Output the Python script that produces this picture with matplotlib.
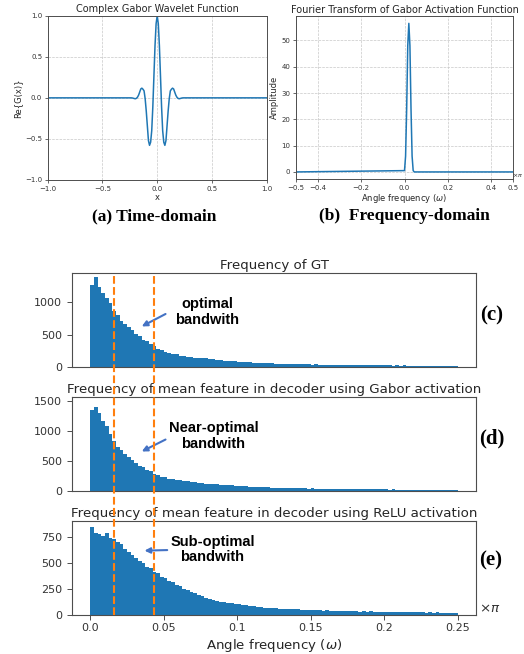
import numpy as np
import matplotlib
matplotlib.use('Agg')
from matplotlib import pyplot as plt
from matplotlib.lines import Line2D
from matplotlib import transforms

wave_x = [-1.0, -0.25, -0.24, -0.23, -0.22, -0.21, -0.20, -0.19, -0.18, -0.17, -0.16,
          -0.15, -0.14, -0.13, -0.12, -0.11, -0.10, -0.09, -0.08, -0.07, -0.06,
          -0.05, -0.04, -0.03, -0.02, -0.01, 0.0, 0.01, 0.02, 0.03, 0.04,
          0.05, 0.06, 0.07, 0.08, 0.09, 0.10, 0.11, 0.12, 0.13, 0.14,
          0.15, 0.16, 0.17, 0.18, 0.19, 0.20, 0.21, 0.22, 0.23, 0.24, 0.25, 1.0]
wave_re = [0.0, 0.0, 0.0, -0.001, -0.004, -0.008, -0.011, -0.006, 0.008, 0.033, 0.07,
           0.108, 0.118, 0.105, 0.085, -0.01, -0.16, -0.34, -0.52, -0.578, -0.54,
           -0.40, -0.11, 0.265, 0.634, 0.902, 1.0, 0.902, 0.634, 0.265, -0.11,
           -0.40, -0.54, -0.578, -0.52, -0.34, -0.16, -0.01, 0.085, 0.105, 0.118,
           0.108, 0.07, 0.033, 0.008, -0.006, -0.011, -0.008, -0.004, -0.001, 0.0, 0.0, 0.0]

# ---- (b) Fourier amplitude
ft_freq = [-0.5, 0.0, 0.005, 0.01, 0.015, 0.02, 0.025, 0.03, 0.035, 0.04, 0.045, 0.5]
ft_amp = [0.0, 0.5, 6.0, 24.0, 48.0, 56.5, 48.0, 24.0, 6.0, 0.5, 0.0, 0.0]

# ---- (c)-(e) histograms, 100 bins of width 0.0025 on [0, 0.25]
bin_width = 0.0025
gt_counts = [1275, 1395, 1240, 1150, 1070, 985, 860, 805, 715, 660,
             612, 570, 505, 478, 425, 398, 352, 318, 282, 258,
             230, 222, 202, 199, 178, 175, 162, 160, 147, 145,
             133, 132, 124, 122, 112, 110, 100, 98, 90, 89,
             81, 80, 74, 73, 67, 67, 61, 61, 56, 56,
             52, 52, 48, 49, 45, 46, 43, 44, 40, 41,
             38, 39, 36, 37, 34, 36, 33, 34, 31, 32,
             30, 31, 28, 30, 27, 29, 26, 28, 25, 27,
             24, 26, 23, 25, 22, 24, 21, 23, 20, 22,
             19, 21, 18, 20, 17, 19, 16, 18, 15, 16]
gabor_counts = [1340, 1390, 1300, 1160, 1085, 945, 830, 730, 685, 605,
                565, 505, 460, 418, 390, 348, 320, 270, 255, 228,
                222, 202, 198, 182, 176, 160, 158, 145, 143, 131,
                130, 119, 118, 108, 107, 98, 97, 88, 87, 80,
                80, 73, 73, 67, 67, 61, 62, 56, 56, 51,
                51, 47, 48, 44, 45, 41, 42, 38, 39, 36,
                37, 33, 35, 31, 33, 29, 31, 28, 29, 26,
                28, 25, 26, 24, 25, 22, 24, 21, 22, 20,
                21, 19, 20, 18, 19, 17, 18, 16, 17, 15,
                16, 15, 15, 14, 15, 13, 14, 13, 13, 12]
relu_counts = [850, 790, 778, 758, 790, 742, 735, 700, 680, 636,
               610, 575, 550, 515, 500, 466, 450, 416, 400, 366,
               355, 328, 316, 288, 276, 248, 240, 218, 212, 191,
               186, 166, 158, 140, 138, 125, 122, 111, 112, 102,
               102, 93, 94, 85, 86, 78, 78, 71, 72, 65,
               66, 60, 62, 57, 58, 53, 54, 49, 51, 46,
               48, 44, 46, 42, 44, 40, 42, 38, 40, 36,
               38, 35, 37, 33, 36, 32, 34, 31, 33, 30,
               32, 29, 31, 28, 30, 27, 29, 26, 28, 25,
               27, 24, 26, 23, 25, 22, 23, 21, 22, 20]

band_edges = [0.016, 0.043]
hist_titles = ['Frequency of GT',
               'Frequency of mean feature in decoder using Gabor activation',
               'Frequency of mean feature in decoder using ReLU activation']
hist_yticks = [[0, 500, 1000], [0, 500, 1000, 1500], [0, 250, 500, 750]]
hist_ylims = [1460, 1565, 907]
panel_tags = ['(c)', '(d)', '(e)']
notes = ['optimal\nbandwith', 'Near-optimal\nbandwith', 'Sub-optimal\nbandwith']
freq_ticks = [0.0, 0.05, 0.1, 0.15, 0.2, 0.25]
freq_ticklabels = ['0.0', '0.05', '0.1', '0.15', '0.2', '0.25']

W, H = 524.0, 654.0


def rect(x0, y0, x1, y1):
    return [x0 / W, 1 - y1 / H, (x1 - x0) / W, (y1 - y0) / H]


def fp(px, py):
    return (px / W, 1 - py / H)


blue = '#1f77b4'
spine_col = '0.3'
serif = ['Liberation Serif', 'DejaVu Serif']
sans_b = ['Liberation Sans', 'DejaVu Sans']

fig = plt.figure(figsize=(5.24, 6.54), dpi=100)

# ---------------- (a)
ax_a = fig.add_axes(rect(47.7, 15.7, 266.7, 180))
ax_a.plot(wave_x, wave_re, color=blue, lw=1.1)
ax_a.set_xlim(-1, 1)
ax_a.set_ylim(-1, 1)
ax_a.set_xticks([-1.0, -0.5, 0.0, 0.5, 1.0])
ax_a.set_yticks([-1.0, -0.5, 0.0, 0.5, 1.0])
ax_a.grid(True, ls='--', lw=0.5, color='#c8c8c8')
ax_a.set_title('Complex Gabor Wavelet Function', fontsize=7, pad=2.5, color='0.15')
ax_a.set_xlabel('x', fontsize=6, labelpad=1, color='0.15')
ax_a.set_ylabel('Re{G(x)}', fontsize=6, labelpad=2, color='0.15')

# ---------------- (b)
ax_b = fig.add_axes(rect(296, 16, 513, 179.3))
ax_b.plot(ft_freq, ft_amp, color=blue, lw=1.1)
ax_b.set_xlim(-0.5, 0.5)
ax_b.set_ylim(-2.8, 59.3)
ax_b.set_xticks([-0.5, -0.4, -0.2, 0.0, 0.2, 0.4, 0.5])
ax_b.set_yticks([0, 10, 20, 30, 40, 50])
ax_b.grid(True, ls='--', lw=0.5, color='#c8c8c8')
ax_b.set_title('Fourier Transform of Gabor Activation Function', fontsize=7, pad=2.5, color='0.15')
ax_b.set_xlabel(r'Angle frequency ($\omega$)', fontsize=6, labelpad=1, color='0.15')
ax_b.set_ylabel('Amplitude', fontsize=6, labelpad=2, color='0.15')
fig.text(*fp(523, 175), r'$\times\pi$', fontsize=4.5, ha='right', va='center', color='0.2')

for ax in (ax_a, ax_b):
    ax.tick_params(labelsize=5, length=2.5, width=0.6, pad=1.5, colors=spine_col, labelcolor='0.2')
    for s in ax.spines.values():
        s.set_color(spine_col)
        s.set_linewidth(0.7)

fig.text(*fp(154, 216), '(a) Time-domain', fontsize=12.5, fontweight='bold',
         family=serif, ha='center', va='center')
fig.text(*fp(404.5, 216), '(b)  Frequency-domain', fontsize=12.5, fontweight='bold',
         family=serif, ha='center', va='center')

# ---------------- (c)-(e)
edges = np.arange(len(gt_counts) + 1) * bin_width
hist_axes = [fig.add_axes(rect(72, 272.7, 476, 367)),
             fig.add_axes(rect(72, 396.7, 476, 490.7)),
             fig.add_axes(rect(72, 520.7, 476, 615))]
all_counts = [gt_counts, gabor_counts, relu_counts]

for i, ax in enumerate(hist_axes):
    ax.stairs(all_counts[i], edges, fill=True, color=blue, lw=0)
    ax.set_xlim(-0.0125, 0.2625)
    ax.set_ylim(0, hist_ylims[i])
    ax.set_yticks(hist_yticks[i])
    ax.set_title(hist_titles[i], fontsize=9.6, pad=3, color='0.15')
    ax.tick_params(labelsize=8, colors=spine_col, labelcolor='0.2', width=0.7)
    for s in ax.spines.values():
        s.set_color(spine_col)
        s.set_linewidth(0.8)
    if i < 2:
        ax.set_xticks([])

ax_e = hist_axes[2]
ax_e.set_xticks(freq_ticks)
ax_e.set_xticklabels(freq_ticklabels)
ax_e.tick_params(axis='x', pad=2.5)
ax_e.set_xlabel(r'Angle frequency ($\omega$)', fontsize=9.6, labelpad=3, color='0.15')
fig.text(*fp(479, 609), r'$\times\pi$', fontsize=9.6, ha='left', va='center', color='0.2')

# dashed bandwidth markers running through all three histograms
blend = transforms.blended_transform_factory(ax_e.transData, fig.transFigure)
for xb in band_edges:
    fig.add_artist(Line2D([xb, xb], [1 - 615 / H, 1 - 274 / H], transform=blend,
                          color='#ff7f0e', lw=1.5, ls='--'))

# annotations
note_pos = [(207, 311.7), (213.5, 436), (212.5, 549.5)]
arrows = [((168, 312.7), (139.3, 327.7)),
          ((168, 438.3), (139.3, 452.7)),
          ((170, 550.0), (141.7, 550.7))]
tag_pos = [(491.5, 315), (492, 438), (491, 560)]
for i in range(3):
    fig.text(*fp(*note_pos[i]), notes[i], fontsize=10.5, fontweight='bold', family=sans_b,
             ha='center', va='center', linespacing=1.15)
    tail, head = arrows[i]
    fig.add_artist(matplotlib.patches.FancyArrowPatch(
        fp(*tail), fp(*head), transform=fig.transFigure, arrowstyle='-|>',
        mutation_scale=8, color='#4472c4', lw=1.5))
    fig.text(*fp(*tag_pos[i]), panel_tags[i], fontsize=15, fontweight='bold', family=serif,
             ha='center', va='center')

fig.savefig('out.png', dpi=100)
